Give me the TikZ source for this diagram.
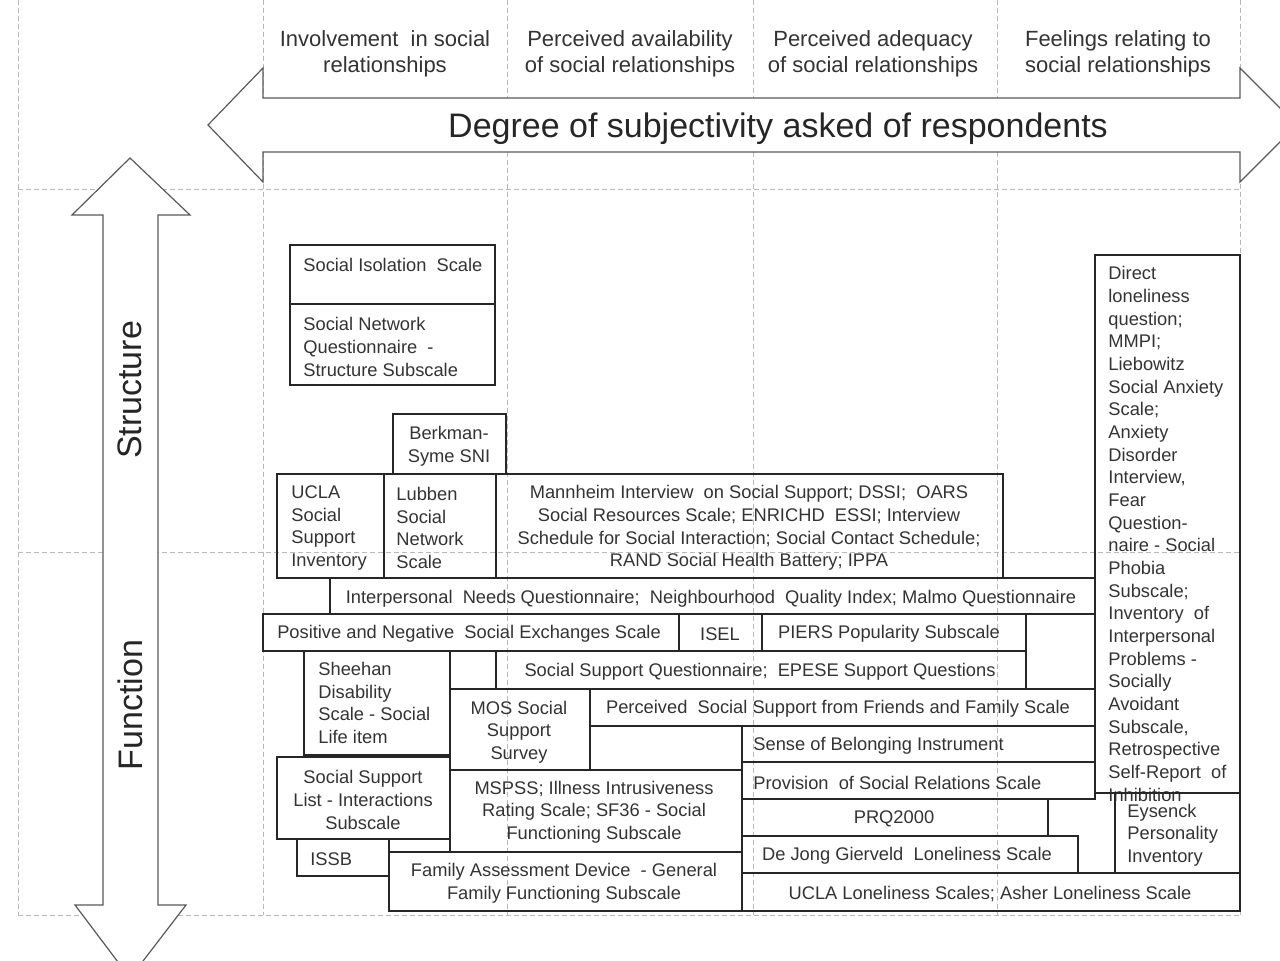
\documentclass[tikz,border=0pt]{standalone}
\usepackage{fontspec}
\setmainfont{Liberation Sans}
\usetikzlibrary{positioning}

\begin{document}
\begin{tikzpicture}[
    x=0.5pt, y=-0.5pt,
    grid/.style={gray!55, dash pattern=on 2.5pt off 1.5pt, line width=0.5pt},
    box/.style={draw=black!85, line width=0.7pt},
    bigarrow/.style={draw=black!65, line width=0.6pt, fill=white, line join=miter},
    txt/.style={inner sep=0pt, yshift=-1pt, text=black!80, font=\fontsize{9.15}{11.33}\selectfont},
    lefttxt/.style={txt, anchor=west, align=left},
    midtxt/.style={txt, anchor=center, align=center},
    head/.style={inner sep=0pt, yshift=-1.5pt, text=black!80, align=center, font=\fontsize{11}{13}\selectfont},
    axislabel/.style={inner sep=0pt, text=black!85, font=\fontsize{17}{20}\selectfont}
]
    \useasboundingbox (0,0) rectangle (1280,961);
    \clip (0,0) rectangle (1280,961);

    % grid of the table
    \foreach \gx in {18,263,507,753,997,1240}
        \draw[grid] (\gx,0) -- (\gx,915);
    \foreach \gy in {190,553,915}
        \draw[grid] (18,\gy) -- (1240,\gy);

    % the two big arrows
    \draw[bigarrow] (208,125) -- (263,68) -- (263,98) -- (1240,98) -- (1240,68)
        -- (1297,125) -- (1240,182) -- (1240,152) -- (263,152) -- (263,182) -- cycle;
    \draw[bigarrow] (130,158) -- (190,215) -- (158,215) -- (158,905) -- (186,905)
        -- (130,978) -- (75,905) -- (103,905) -- (103,215) -- (72,215) -- cycle;

    \node[head] (inv) at (385,51) {Involvement \ in social\\relationships};
    \node[head] (avail) at (630,51) {Perceived availability\\of social relationships};
    \node[head] (adeq) at (873,51) {Perceived adequacy\\of social relationships};
    \node[head] (feel) at (1118,51) {Feelings relating to\\social relationships};
    \node[axislabel, yshift=-2pt] (subj) at (778,125) {Degree of subjectivity asked of respondents};
    \node[axislabel, rotate=90] (struct) at (130,390) {Structure};
    \node[axislabel, rotate=90] (func) at (130,705) {Function};

    % measures
    \node[lefttxt] (iso) at (303,263) {Social Isolation \ Scale};
    \node[lefttxt] (snq) at (303,345) {Social Network\\Questionnaire \ -\\Structure Subscale};
    \node[midtxt] (berk) at (449,444) {Berkman-\\Syme SNI};
    \node[lefttxt] (ssi) at (291,526) {UCLA\\Social\\Support\\Inventory};
    \node[lefttxt] (lub) at (396,526) {Lubben\\Social\\Network\\Scale};
    \node[midtxt] (mann) at (749,526) {Mannheim Interview \ on Social Support; DSSI; \ OARS\\
        Social Resources Scale; ENRICHD \ ESSI; Interview\\
        Schedule for Social Interaction; Social Contact Schedule;\\
        RAND Social Health Battery; IPPA};
    \node[midtxt] (inq) at (711,597) {Interpersonal \ Needs Questionnaire; \ Neighbourhood \ Quality Index; Malmo Questionnaire};
    \node[midtxt] (pnse) at (469,632) {Positive and Negative \ Social Exchanges Scale};
    \node[midtxt] (isel) at (720,632) {ISEL};
    \node[midtxt] (piers) at (889,632) {PIERS Popularity Subscale};
    \node[lefttxt] (sheehan) at (318,701) {Sheehan\\Disability\\Scale - Social\\Life item};
    \node[midtxt] (ssq) at (760,670) {Social Support Questionnaire; \ EPESE Support Questions};
    \node[midtxt] (mos) at (519,730) {MOS Social\\Support\\Survey};
    \node[midtxt] (pssff) at (838,707) {Perceived \ Social Support from Friends and Family Scale};
    \node[lefttxt] (sob) at (753,744) {Sense of Belonging Instrument};
    \node[lefttxt] (psr) at (753,781) {Provision \ of Social Relations Scale};
    \node[midtxt] (ssl) at (363,798) {Social Support\\List - Interactions\\Subscale};
    \node[midtxt] (mspss) at (594,810) {MSPSS; Illness Intrusiveness\\Rating Scale; SF36 - Social\\Functioning Subscale};
    \node[lefttxt] (issb) at (310,857) {ISSB};
    \node[midtxt] (fad) at (564,881) {Family Assessment Device \ - General\\Family Functioning Subscale};
    \node[midtxt] (prq) at (894,817) {PRQ2000};
    \node[midtxt] (djg) at (907,854) {De Jong Gierveld \ Loneliness Scale};
    \node[lefttxt] (eys) at (1127,833) {Eysenck\\Personality\\Inventory};
    \node[midtxt] (ucla) at (990,892) {UCLA Loneliness Scales; Asher Loneliness Scale};
    \node[lefttxt] (direct) at (1108,532) {Direct\\loneliness\\question;\\MMPI;\\Liebowitz\\Social Anxiety\\Scale;\\Anxiety\\Disorder\\Interview,\\Fear\\Question-\\naire - Social\\Phobia\\Subscale;\\Inventory \ of\\Interpersonal\\Problems -\\Socially\\Avoidant\\Subscale,\\Retrospective\\Self-Report \ of\\Inhibition};

    % boxes round the measures
    \draw[box] (290,245) rectangle (495,304);
    \draw[box] (290,304) rectangle (495,385);
    \draw[box] (393,414) rectangle (506,474);
    \draw[box] (277,474) rectangle (384,578);
    \draw[box] (384,474) rectangle (496,578);
    \draw[box] (496,474) rectangle (1003,578);
    \draw[box] (330,578) rectangle (1095,614);
    \draw[box] (263,614) rectangle (679,651);
    \draw[box] (679,614) rectangle (762,651);
    \draw[box] (762,614) rectangle (1026,651);
    \draw[box] (304,651) rectangle (450,755);
    \draw[box] (496,651) rectangle (1026,689);
    \draw[box] (450,689) rectangle (590,770);
    \draw[box] (590,689) rectangle (1095,726);
    \draw[box] (742,726) rectangle (1095,762);
    \draw[box] (742,762) rectangle (1095,799);
    \draw[box] (277,757) rectangle (450,839);
    \draw[box] (450,770) rectangle (742,852);
    \draw[box] (297,839) rectangle (389,876);
    \draw[box] (389,852) rectangle (742,911);
    \draw[box] (742,799) rectangle (1048,836);
    \draw[box] (742,836) rectangle (1078,873);
    \draw[box] (1115,793) rectangle (1240,873);
    \draw[box] (742,873) rectangle (1240,911);
    \draw[box] (1095,255) rectangle (1240,793);
\end{tikzpicture}
\end{document}
